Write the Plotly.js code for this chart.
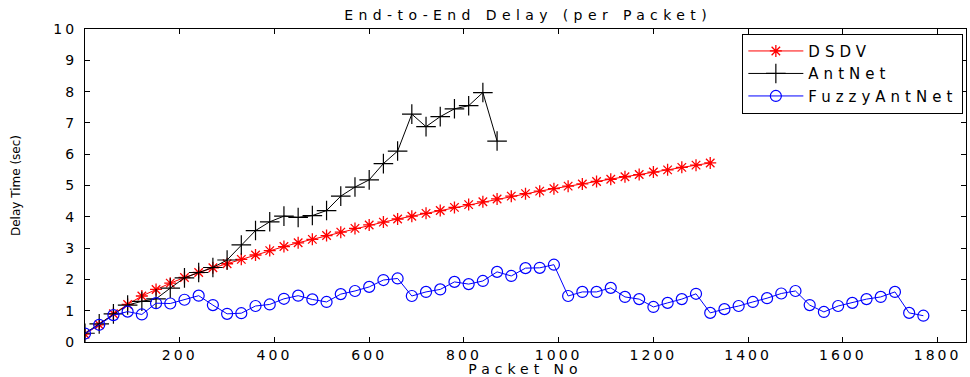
<!DOCTYPE html>
<html>
<head>
<meta charset="utf-8">
<script src="https://cdn.plot.ly/plotly-3.0.1.min.js"></script>
<style>
  html, body { margin: 0; padding: 0; background: #fff; }
  #chart { width: 970px; height: 377px; }
  .xtick text, .ytick text { letter-spacing: 3px; }
  .gtitle { letter-spacing: 5.4px; }
  .xtitle { letter-spacing: 5px; }
  .legendtext { letter-spacing: 5px; }
</style>
</head>
<body>
<div id="chart"></div>
<script>
const packetsDSDV = [0,30,60,90,120,150,180,210,240,270,300,330,360,390,420,450,480,510,540,570,600,630,660,690,720,750,780,810,840,870,900,930,960,990,1020,1050,1080,1110,1140,1170,1200,1230,1260,1290,1320];
const delayDSDV = [0.25,0.55,0.9,1.2,1.47,1.68,1.88,2.06,2.22,2.37,2.5,2.64,2.78,2.92,3.05,3.17,3.28,3.4,3.51,3.63,3.74,3.83,3.93,4.02,4.11,4.2,4.3,4.39,4.48,4.57,4.66,4.74,4.82,4.9,4.98,5.05,5.13,5.2,5.28,5.35,5.43,5.5,5.58,5.65,5.72];

const packetsAnt = [0,30,60,90,120,150,180,210,240,270,300,330,360,390,420,450,480,510,540,570,600,630,660,690,720,750,780,810,840,870];
const delayAnt = [0.28,0.58,0.9,1.18,1.3,1.38,1.72,2.05,2.22,2.38,2.62,3.1,3.56,3.84,4.02,3.98,4.04,4.2,4.66,4.95,5.18,5.7,6.1,7.28,6.88,7.2,7.45,7.55,7.97,6.42];

const packetsFuzzy = [0,30,60,90,120,150,180,210,240,270,300,330,360,390,420,450,480,510,540,570,600,630,660,690,720,750,780,810,840,870,900,930,960,990,1020,1050,1080,1110,1140,1170,1200,1230,1260,1290,1320,1350,1380,1410,1440,1470,1500,1530,1560,1590,1620,1650,1680,1710,1740,1770];
const delayFuzzy = [0.27,0.55,0.86,0.97,0.88,1.24,1.23,1.35,1.48,1.18,0.9,0.92,1.15,1.2,1.38,1.48,1.36,1.28,1.53,1.63,1.76,1.98,2.03,1.47,1.6,1.68,1.92,1.85,1.95,2.24,2.11,2.36,2.37,2.47,1.47,1.6,1.6,1.73,1.44,1.37,1.12,1.25,1.37,1.54,0.93,1.05,1.15,1.28,1.4,1.55,1.63,1.18,0.96,1.15,1.25,1.37,1.44,1.6,0.93,0.84];

const xTickVals = [200,400,600,800,1000,1200,1400,1600,1800];
const yTickVals = [0,1,2,3,4,5,6,7,8,9,10];

const FONT = "DejaVu Sans, Arial, sans-serif";

const traces = [
  {
    x: packetsDSDV, y: delayDSDV, name: 'DSDV', type: 'scatter', mode: 'lines+markers',
    line: {color: '#ff0000', width: 1},
    marker: {symbol: 'asterisk-open', size: 10, color: '#ff0000', line: {color: '#ff0000', width: 1.3}}
  },
  {
    x: packetsAnt, y: delayAnt, name: 'AntNet', type: 'scatter', mode: 'lines+markers',
    line: {color: '#000000', width: 1},
    marker: {symbol: 'cross-thin-open', size: 14, color: '#000000', line: {color: '#000000', width: 1.2}}
  },
  {
    x: packetsFuzzy, y: delayFuzzy, name: 'FuzzyAntNet', type: 'scatter', mode: 'lines+markers',
    line: {color: '#0000ff', width: 1},
    marker: {symbol: 'circle-open', size: 11, color: '#0000ff', line: {color: '#0000ff', width: 1.2}}
  }
];

const layout = {
  width: 970, height: 377,
  margin: {l: 85, r: 4, t: 29, b: 35, pad: 0},
  paper_bgcolor: '#ffffff', plot_bgcolor: '#ffffff',
  font: {family: FONT, size: 14, color: '#000'},
  title: {text: 'End-to-End Delay (per Packet)', x: 0.503, xref: 'paper', xanchor: 'center', y: 0.96, yanchor: 'middle', yref: 'container', font: {size: 14, family: FONT, color: '#000'}},
  xaxis: {
    range: [0, 1860], tickvals: xTickVals, ticktext: xTickVals.map(String),
    ticks: 'inside', ticklen: 5, tickcolor: '#000', showline: true, linecolor: '#000', linewidth: 1,
    mirror: 'ticks', showgrid: false, zeroline: false,
    tickfont: {size: 14, family: FONT},
    title: {text: 'Packet No', font: {size: 14, family: FONT}, standoff: 0}
  },
  yaxis: {
    range: [0, 10], tickvals: yTickVals, ticktext: yTickVals.map(String),
    ticks: 'inside', ticklen: 5, tickcolor: '#000', showline: true, linecolor: '#000', linewidth: 1,
    mirror: 'ticks', showgrid: false, zeroline: false, ticklabelstandoff: 4,
    tickfont: {size: 14, family: FONT},
    title: {text: 'Delay Time (sec)', font: {size: 12, family: FONT}, standoff: 30}
  },
  showlegend: true,
  legend: {
    x: 0.997, xanchor: 'right', y: 0.985, yanchor: 'top',
    bgcolor: '#ffffff', bordercolor: '#000', borderwidth: 1,
    font: {size: 15, family: FONT}, tracegroupgap: 0, itemwidth: 55
  }
};

Plotly.newPlot('chart', traces, layout, {displayModeBar: false, staticPlot: true});
</script>
</body>
</html>
